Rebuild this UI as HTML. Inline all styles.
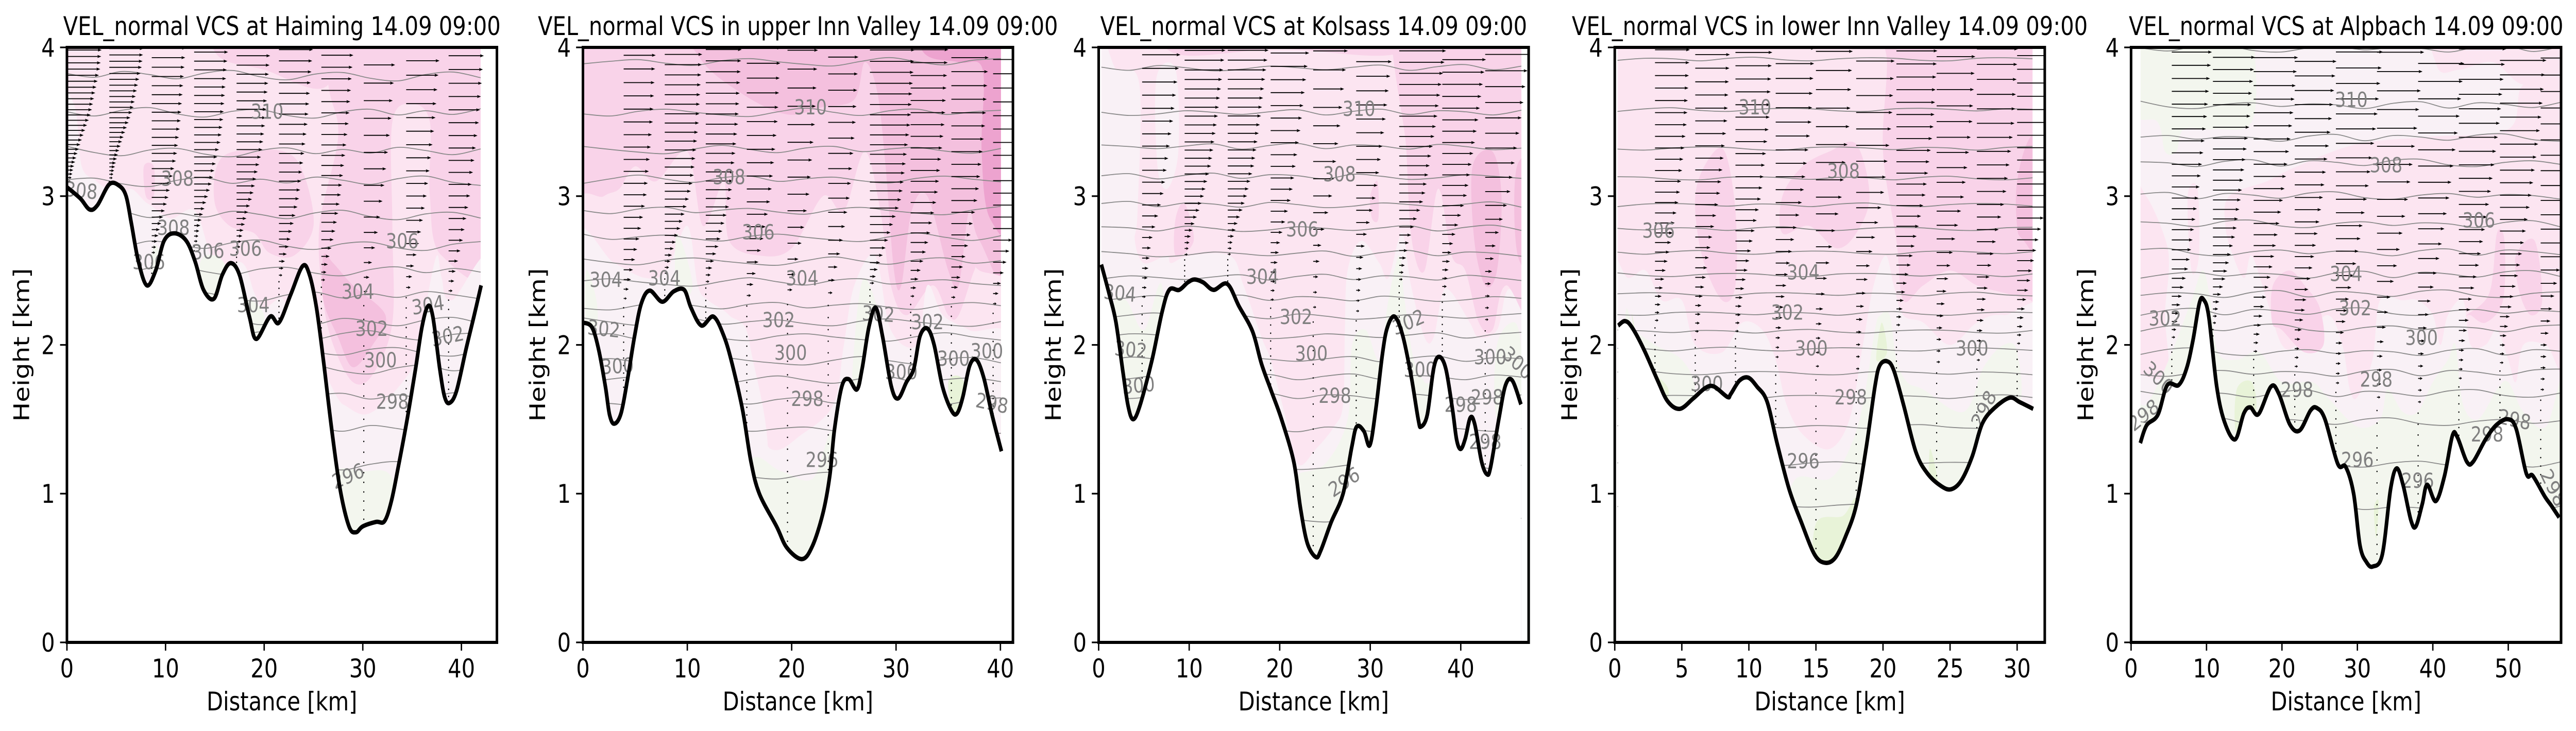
<!DOCTYPE html>
<html lang="en">
<head>
<meta charset="utf-8">
<title>VEL_normal VCS cross sections</title>
<style>
html,body{margin:0;padding:0;background:#fff;width:100%;height:100%;overflow:hidden;}
svg{display:block;width:100vw;height:100vh;font-family:"DejaVu Sans","Liberation Sans",sans-serif;}
</style>
</head>
<body>
<svg id="figure" xmlns="http://www.w3.org/2000/svg" viewBox="0 0 6004 1419" preserveAspectRatio="none"></svg>
<script>
/* ---------- shared data ---------- */
const heightTicks = [0, 1, 2, 3, 4];
const shadeColors = ['#e8f3d8', '#f3f6ee', '#f9f1f6', '#fce5f1', '#f9d3e9', '#f4c0de', '#eda3cf'];
const windLevelFractions = [0.012, 0.028, 0.044, 0.06, 0.077, 0.094, 0.112, 0.13, 0.149, 0.168, 0.188, 0.208, 0.229, 0.25, 0.272, 0.294, 0.317, 0.34, 0.364, 0.388, 0.413, 0.438, 0.464, 0.49, 0.517, 0.544, 0.572, 0.6, 0.629, 0.658, 0.688, 0.718, 0.749, 0.78, 0.812, 0.844, 0.877];
const windHeights = [1.5, 2, 2.3, 2.5, 2.7, 3, 3.5, 4];
const aglHeights = [0, 0.05, 0.2, 0.5, 0.8];
const aglFactors = [0.1, 0.15, 0.35, 0.8, 1];

/* ---------- Haiming ---------- */
const distanceHaiming = [0, 1.35, 2.3, 3.1, 4.3, 5.3, 6, 6.55, 7.25, 8.1, 9, 9.85, 10.9, 12.1, 13, 13.85, 14.9, 15.75, 16.6, 17.5, 18.5, 19.2, 20.6, 21.5, 22.7, 23.9, 24.6, 25.3, 26, 26.85, 27.7, 28.6, 29.3, 30, 31.35, 32.2, 32.9, 33.6, 34.5, 35.35, 36, 36.6, 37.1, 37.8, 38.3, 38.8, 39.5, 40.5, 41.3, 42];
const terrainHaiming = [3.06, 2.985, 2.91, 2.94, 3.08, 3.07, 3, 2.81, 2.56, 2.4, 2.5, 2.7, 2.75, 2.7, 2.56, 2.37, 2.31, 2.47, 2.55, 2.47, 2.19, 2.04, 2.19, 2.15, 2.34, 2.53, 2.47, 2.25, 1.9, 1.43, 1.03, 0.78, 0.74, 0.78, 0.81, 0.815, 0.95, 1.18, 1.5, 1.84, 2.12, 2.26, 2.19, 1.84, 1.65, 1.61, 1.69, 1.98, 2.2, 2.4];
const isentropesHaiming = [3.81, 3.56, 3.3, 3.1, 2.87, 2.67, 2.5, 2.33, 2.15, 2.06, 1.96, 1.84, 1.65, 1.43, 1.18];
const rippleHaiming = [0.4, -0.3, 0.8, 0.2, -0.6, 0.5, 1, -0.2, -0.8, 0.3, 0.6, -0.5, -1, 0.2, 0.7, -0.4];
const arrowColumnsHaiming = [0.07, 4.3, 8.6, 12.9, 17.2, 21.5, 25.8, 30.1, 34.4, 38.7];
const columnGainHaiming = [1, 1, 1, 1, 1, 1, 0.95, 0.95, 1, 1.05];
const windSpeedHaiming = [0.2, 0.3, 1, 2.7, 5.3, 8, 11.3, 13.3];
const shadeHaiming = [
 [4, [25.5,4.4, 44,4.4, 44,2.55, 38,2.6, 36.8,3, 36.8,3.5, 35,3.62, 33,3.5, 33,2.8, 33,2.15, 31,1.8, 29,1.75, 27,2, 26,2.3, 25.6,2.8, 27.5,3.4, 26.5,3.75]],
 [4, [15,4.4, 27,4.4, 26.5,3.75, 20,3.85, 15,3.97]],
 [4, [15.2,3.2, 17,3.3, 22,3.3, 24,3.15, 25,2.8, 23,2.6, 20.5,2.62, 19,2.75, 16.5,2.8, 15,2.95]],
 [4, [7.8,3.2, 8.8,3.2, 8.8,3, 8,3]],
 [5, [26,2.6, 27,2.55, 29,2.4, 32.3,2.2, 31,2, 29,1.85, 27.5,2.05, 26,2.3]],
 [2, [25,1.75, 28,1.6, 31,1.55, 35.5,1.9, 36.5,2.3, 37.5,2.6, 38,2.45, 39,2.3, 44,2.5, 44,0, 25,0]],
 [2, [6,2.2, 6,3, 8.2,2.95, 10.5,2.85, 13,2.9, 15,2.55, 17.8,2.55, 19,2.35, 20,2.25, 22,2.3, 22,1.9, 6,1.9]],
 [2, [-1,3.7, 0.8,3.6, 1.5,3.2, 3,3.1, 4,3, 0,2.8, -1,2.9]],
 [1, [27,1.12, 30,1.15, 33,1.1, 33.5,0.6, 27,0.6]],
 [1, [13.5,2.55, 15,2.6, 16.2,2.5, 16.2,2.2, 13.5,2.2]],
 [1, [8.7,2.65, 9.5,2.6, 9.5,2.3, 8.6,2.3]],
 [1, [18,2.3, 20,2.2, 19,1.95]]
];
const labelsHaiming = [
 ['308', 1.45, 3.04, 5], ['310', 20.3, 3.57, 0], ['308', 11.2, 3.12, 0], ['308', 10.8, 2.79, 0],
 ['306', 8.3, 2.56, 0], ['306', 14.3, 2.63, -3], ['306', 18.1, 2.65, 0], ['304', 18.9, 2.27, 0],
 ['306', 34, 2.7, 0], ['304', 29.5, 2.36, 0], ['302', 30.9, 2.11, 0], ['300', 31.8, 1.9, 0],
 ['298', 33, 1.62, 0], ['296', 28.5, 1.12, -20], ['304', 36.6, 2.27, -8], ['302', 38.6, 2.06, -10]
];

/* ---------- upper Inn Valley ---------- */
const distanceUpperInn = [0, 0.85, 1.5, 2.15, 2.55, 3, 3.65, 4.3, 4.95, 5.6, 6.4, 7.6, 8.7, 9.7, 10.35, 11.35, 12.5, 13.5, 14.3, 15.3, 16.1, 16.9, 18.55, 19.55, 21, 22, 23, 23.65, 24.1, 24.8, 25.45, 26.25, 26.75, 27.4, 28.05, 28.7, 29.55, 30.2, 31, 31.7, 32.3, 33, 33.65, 34.45, 35.3, 35.85, 36.4, 37.05, 37.7, 38.4, 39.2, 40.1];
const terrainUpperInn = [2.15, 2.12, 1.97, 1.72, 1.53, 1.47, 1.54, 1.78, 2.06, 2.28, 2.365, 2.29, 2.36, 2.37, 2.25, 2.13, 2.19, 2.06, 1.87, 1.56, 1.215, 1, 0.78, 0.635, 0.56, 0.65, 0.87, 1.12, 1.43, 1.72, 1.77, 1.7, 1.84, 2.12, 2.25, 2.06, 1.72, 1.64, 1.75, 1.84, 2.06, 2.11, 2, 1.72, 1.56, 1.54, 1.65, 1.86, 1.9, 1.78, 1.53, 1.285];
const isentropesUpperInn = [3.9, 3.56, 3.31, 3.11, 2.9, 2.72, 2.56, 2.42, 2.26, 2.15, 2.05, 1.89, 1.76, 1.62, 1.43, 1.12];
const rippleUpperInn = [-0.3, 0.2, 0.5, -0.2, -0.6, 0.3, 0.7, 0.1, -0.4, -0.7, 0.2, 0.9, 0.1, -0.5, 0.4, 0.7];
const arrowColumnsUpperInn = [3.9, 7.84, 11.77, 15.7, 19.6, 23.5, 27.5, 31.4, 35.3, 39.3];
const columnGainUpperInn = [0.9, 1.05, 1, 0.95, 0.85, 0.85, 1.25, 1.05, 1.05, 1.1];
const windSpeedUpperInn = [0.3, 0.5, 1.3, 4, 6.7, 10, 12.7, 14];
const shadeUpperInn = [
 [5, [9,4.4, 42,4.4, 42,2.35, 38,2.7, 37,2.9, 36,2.4, 35,2.5, 33,3, 31.5,2.9, 30.5,2.4, 29.8,2.5, 29,3.2, 28.2,3.7, 27,3.9, 26,3.65, 23,3.6, 19.5,3.55, 15,3.7, 11,3.95]],
 [6, [32,4.4, 42,4.4, 42,2.8, 39,2.85, 38.2,3.3, 38.3,3.85, 36,3.9, 32.5,3.98]],
 [3, [-1,2.85, 2,3, 3.5,3.05, 5,3.2, 7,3.1, 10,3.3, 11.5,2.8, 13.5,3.1, 14,2.7, 17,2.6, 20,2.65, 23,3, 25,2.9, 27,3.3, 28.5,2.9, 29.5,2.4, 31,2.2, 33.5,2.4, 35,2.2, 36,2.2, 37.5,2.5, 38,2.5, 42,2.3, 42,1.3, -1,1.3]],
 [2, [-1,2.7, 3,2.55, 6,2.45, 8,2.5, 10,2.8, 11,2.4, 12,2.3, 14,2.2, 16,2, 16.5,1, -1,1]],
 [2, [15,1.6, 18,1.3, 21,1.4, 24,1.6, 25,2, 26,2.4, 28,2.6, 29.5,2.1, 32,2, 33,2.4, 34.5,2.2, 37,2.1, 42,1.9, 42,0, 15,0]],
 [1, [16,1.2, 19,1.15, 22,1.1, 24,1.4, 24.5,0.4, 16,0.4]],
 [1, [26,2, 27,2.45, 29,2, 29,1.5, 26,1.5]],
 [1, [0.3,2.5, 1.3,2.3, 1.3,2.1, 0.3,2.1]],
 [1, [9,2.75, 10.5,2.4, 9,2.3]],
 [0, [35,1.75, 36.5,1.75, 35.8,1.4]]
];
const labelsUpperInn = [
 ['304', 2.2, 2.44, 0], ['304', 7.8, 2.45, 0], ['302', 2, 2.11, 5], ['300', 3.3, 1.86, -3],
 ['310', 21.8, 3.6, 0], ['308', 14, 3.13, 0], ['306', 16.8, 2.76, 0], ['304', 21, 2.45, 0],
 ['302', 18.75, 2.17, 0], ['300', 19.9, 1.95, 0], ['298', 21.5, 1.64, 0], ['296', 22.9, 1.23, 0],
 ['302', 28.3, 2.21, 3], ['302', 33, 2.155, 0], ['300', 35.5, 1.91, 0], ['300', 38.7, 1.96, 0],
 ['300', 30.5, 1.82, 0], ['298', 39.2, 1.61, 10]
];

/* ---------- Kolsass ---------- */
const distanceKolsass = [0.3, 1.17, 1.9, 2.7, 3.25, 3.8, 4.55, 5.9, 7, 7.8, 8.9, 9.85, 10.6, 11.55, 12.7, 14.2, 15.5, 17, 18, 19.1, 20.2, 21.55, 22.3, 23.05, 24, 24.55, 25.7, 27, 27.95, 28.5, 29.3, 29.95, 30.6, 31.35, 31.9, 32.7, 33.6, 34.55, 35.3, 35.6, 36.3, 37, 37.6, 38.35, 39.1, 39.55, 40, 40.5, 41.05, 41.55, 42.3, 42.9, 43.3, 44.2, 44.95, 45.7, 46.65];
const terrainKolsass = [2.54, 2.34, 2.155, 1.81, 1.59, 1.5, 1.59, 1.9, 2.22, 2.37, 2.37, 2.42, 2.44, 2.42, 2.37, 2.41, 2.26, 2.09, 1.87, 1.685, 1.5, 1.215, 0.9, 0.667, 0.573, 0.62, 0.81, 1, 1.31, 1.45, 1.42, 1.325, 1.56, 1.94, 2.12, 2.19, 2.06, 1.78, 1.5, 1.45, 1.53, 1.84, 1.92, 1.84, 1.56, 1.36, 1.3, 1.37, 1.51, 1.465, 1.215, 1.13, 1.18, 1.5, 1.73, 1.76, 1.6];
const isentropesKolsass = [3.86, 3.56, 3.33, 3.13, 2.94, 2.78, 2.61, 2.45, 2.31, 2.19, 2.06, 1.9, 1.78, 1.65, 1.43, 1.18, 0.82];
const rippleKolsass = [0.2, -0.4, 0.5, 0.1, -0.5, -0.2, 0.4, 0.1, -0.3, 0.2, 0.6, -0.4, 0.3, 0.7, -0.3, 0.4];
const arrowColumnsKolsass = [4.8, 9.5, 14.26, 19, 23.7, 28.45, 33.2, 37.96, 42.7];
const columnGainKolsass = [0.95, 1, 1, 0.95, 0.85, 0.9, 1.15, 1.1, 1.1];
const windSpeedKolsass = [0.3, 0.7, 1.5, 2.5, 4, 8.7, 12.7, 16];
const shadeKolsass = [
 [2, [-1,3.88, 2,3.85, 4.5,3.75, 4.3,2.9, 4,2.7, 5,2.55, 7.5,2.6, 8,2.55, 10,2.6, 14.5,2.6, 16,2.4, 18,2.05, 19,1.9, 20.5,1.55, 22,1.2, 24,1.3, 26,1.45, 27,1.6, 27.2,2.1, 27.5,2.5, 29,2.7, 31,2.55, 32,2.45, 33.5,2.75, 34.5,2.4, 36,2.05, 37,2.05, 38,2.35, 39,2.35, 41,2.15, 42,2.05, 44,2.1, 45,2.35, 46,2.35, 49,2.2, 49,0, -1,0]],
 [2, [6.4,3.8, 8.5,3.85, 8.8,3.3, 7.6,3.05, 6.5,3.2]],
 [4, [33.3,4.4, 49,4.4, 49,2.2, 45,2.4, 43.5,2.1, 42,2.15, 40.5,2.5, 39,2.6, 37.5,3.05, 36,2.5, 34.6,2.7, 34,3.3]],
 [4, [8,4.4, 33.5,4.4, 33.5,3.97, 20,3.99, 8,3.97]],
 [4, [8.5,2.85, 9.5,2.95, 10.5,2.7, 8.5,2.6]],
 [4, [30,3, 30.8,3.1, 30.9,2.85, 30.2,2.85]],
 [5, [41.3,3.2, 43.5,3.3, 44.5,3, 44,2.5, 42.7,2.4, 41.5,2.7]],
 [5, [46.2,3.2, 49,3.2, 49,2.5, 46.3,2.6]],
 [1, [1.5,2.2, 3,2.3, 5,2.1, 7,2.4, 7.5,1.5, 2,1.2]],
 [1, [21.5,1.1, 25,1.2, 27.5,1.5, 28,2, 29.5,2.1, 31,1.9, 32,2.3, 33.2,2.6, 33.8,2.3, 34.8,1.9, 36,1.75, 37,1.7, 37,1.2, 32,0.9, 24,0.4, 21.5,0.8]],
 [1, [44,2, 46,2.15, 46.8,1.9, 46.8,1.5, 44,1.5]]
];
const labelsKolsass = [
 ['304', 2.35, 2.35, 5], ['302', 3.55, 1.97, 5], ['300', 4.4, 1.73, -5], ['310', 28.75, 3.59, 0],
 ['308', 26.6, 3.15, 0], ['306', 22.5, 2.78, 0], ['304', 18.1, 2.46, 0], ['302', 21.8, 2.19, 0],
 ['300', 23.5, 1.945, 0], ['298', 26.1, 1.66, 0], ['296', 27.1, 1.08, -30], ['302', 34.2, 2.155, -20],
 ['300', 35.5, 1.835, 0], ['300', 43.25, 1.92, 0], ['300', 46.3, 1.88, 40], ['298', 40, 1.6, 0],
 ['298', 42.9, 1.65, 0], ['298', 42.7, 1.35, 0]
];

/* ---------- lower Inn Valley ---------- */
const distanceLowerInn = [0.25, 0.76, 1.27, 2.17, 3.2, 3.95, 4.85, 5.85, 6.75, 7.4, 8.4, 8.65, 9.3, 9.95, 10.6, 11.35, 12.1, 13, 13.9, 14.9, 15.7, 16.45, 17.2, 18, 18.75, 19.4, 19.75, 20.3, 20.8, 21.55, 22.45, 23.3, 24.35, 25.1, 25.85, 26.65, 27.4, 28.3, 29.45, 30.2, 31.2];
const terrainLowerInn = [2.13, 2.16, 2.12, 1.97, 1.76, 1.62, 1.57, 1.64, 1.71, 1.72, 1.65, 1.67, 1.76, 1.78, 1.72, 1.62, 1.34, 1.03, 0.81, 0.59, 0.535, 0.57, 0.71, 0.92, 1.31, 1.72, 1.86, 1.89, 1.83, 1.59, 1.28, 1.137, 1.05, 1.03, 1.09, 1.25, 1.47, 1.575, 1.645, 1.615, 1.57];
const isentropesLowerInn = [3.92, 3.58, 3.32, 3.12, 2.94, 2.78, 2.62, 2.47, 2.34, 2.21, 2.09, 1.97, 1.81, 1.65, 1.45, 1.2, 0.92];
const rippleLowerInn = [-0.2, 0.2, 0.1, -0.3, 0.2, 0.4, -0.1, -0.3, 0.1, 0.3, 0.2, -0.2, -0.3, 0.2, 0.3, 0.1];
const arrowColumnsLowerInn = [3, 6, 9, 12, 15, 18, 21, 24, 27, 30];
const columnGainLowerInn = [0.85, 0.85, 0.9, 0.95, 0.9, 0.95, 1, 0.95, 1, 1.1];
const windSpeedLowerInn = [0.5, 1.7, 3.5, 5.3, 7.5, 11.3, 14.7, 16];
const shadeLowerInn = [
 [2, [-1,2.5, 1,2.45, 2.3,2.5, 3.5,2.3, 5,2.3, 6,2, 8,1.95, 9.5,2.15, 11,2.1, 12,1.9, 12.8,1.6, 14,1.4, 16,1.3, 17.5,1.5, 18.5,2, 19.3,2.4, 20.2,2.6, 20.8,2.4, 21.5,2.2, 23,2.15, 25,2, 27,2.15, 29,2.2, 33,2.1, 33,0, -1,0]],
 [1, [0.8,2.2, 1.5,2.1, 3,2, 5,1.9, 6,1.7, 6,1.3, 1,1.3]],
 [1, [13.5,1.1, 16,1.1, 17.5,1.3, 18.5,1.6, 19.4,2.1, 19.8,2.2, 20.5,2.2, 21,1.9, 21.8,1.75, 23,1.7, 26,1.55, 27.5,1.85, 29,2, 30,1.95, 30,1.5, 26,0.8, 16,0.3, 13,0.8]],
 [0, [1.3,2.2, 2,1.9, 4,1.7, 3,1.5]],
 [0, [15,0.8, 17,0.85, 18,0.95, 17.5,0.4, 15,0.4]],
 [0, [23.5,1.3, 24.2,1, 23.5,0.9]],
 [0, [19.5,1.9, 19.9,2.15, 20.3,1.95]],
 [4, [6,3, 7,3.25, 8.2,3.3, 9,2.9, 9,2.4, 8,2.3, 6.5,2.6]],
 [4, [12.5,3, 14,3.2, 16,3.3, 18,3.35, 19,3, 18,2.75, 16.5,2.65, 14.5,2.8, 12.5,2.75]],
 [4, [20,4.4, 33,4.4, 33,2.2, 31,2.3, 29,2.35, 27,2.4, 25,2.5, 23,2.4, 21.5,2.3, 21,2.7, 20,3.3, 20.3,3.9]],
 [5, [30,3.1, 31,3.4, 33,3.5, 33,2.5, 30.5,2.7, 30,2.8]]
];
const labelsLowerInn = [
 ['306', 3.26, 2.77, 0], ['310', 10.45, 3.6, 0], ['308', 17.05, 3.17, 0], ['304', 14.05, 2.49, 0],
 ['302', 12.87, 2.22, 0], ['300', 14.66, 1.98, 0], ['300', 6.86, 1.74, 0], ['300', 26.64, 1.98, 0],
 ['298', 17.6, 1.65, 0], ['296', 14.05, 1.22, 0], ['298', 27.5, 1.57, -60]
];

/* ---------- Alpbach ---------- */
const distanceAlpbach = [1.22, 2.07, 3.55, 4.8, 6.3, 7.35, 8.2, 9.05, 9.6, 10.3, 11.35, 12.4, 13.8, 14.95, 15.8, 16.9, 18.55, 19.6, 21.05, 22.35, 23.8, 24.65, 25.7, 27.4, 28.45, 29.5, 30.35, 31.2, 32.05, 33.3, 34.4, 35.2, 36.05, 37.1, 37.75, 38.6, 39.25, 40.4, 41.55, 42.6, 43.25, 44.5, 45.35, 47.05, 48.5, 50, 51.05, 52.4, 53.25, 54.85, 55.7, 56.75];
const terrainAlpbach = [1.34, 1.46, 1.53, 1.73, 1.73, 1.84, 2.03, 2.28, 2.305, 2.19, 1.72, 1.48, 1.365, 1.54, 1.58, 1.535, 1.72, 1.67, 1.465, 1.425, 1.56, 1.575, 1.5, 1.2, 1.18, 1, 0.65, 0.54, 0.51, 0.59, 1.03, 1.17, 1.06, 0.82, 0.78, 0.93, 1.06, 0.95, 1.12, 1.39, 1.38, 1.215, 1.215, 1.37, 1.465, 1.5, 1.435, 1.135, 1.12, 0.98, 0.92, 0.84];
const isentropesAlpbach = [3.99, 3.61, 3.39, 3.22, 3, 2.81, 2.62, 2.47, 2.34, 2.22, 2.11, 1.95, 1.81, 1.67, 1.48, 1.2, 0.9];
const rippleAlpbach = [0.2, -0.4, 0.6, 0.8, -0.3, -0.6, 0.2, 0.5, -0.2, 0.3, 0.1, -0.6, 0.4, 0.7, -0.5, 0.5];
const arrowColumnsAlpbach = [5.4, 10.85, 16.25, 21.7, 27.15, 32.6, 38.05, 43.45, 48.9, 54.3];
const columnGainAlpbach = [0.85, 0.9, 0.95, 0.9, 1, 1, 1, 1, 1, 1];
const windSpeedAlpbach = [0.8, 2.5, 5, 7.5, 9.5, 12.3, 16, 18.5];
const shadeAlpbach = [
 [1, [0,4.4, 15,4.4, 16.4,3.97, 16,3.5, 11,3.45, 7,3.45, 6,3.3, 4.5,3.3, 3.5,3.5, 0,3.6]],
 [3, [-1,3.1, 2,3, 4.6,2.7, 5,2.5, 4.5,2.2, 4.8,1.8, 1,1.8, -1,1.8]],
 [3, [13,3, 18,3.1, 22,3.2, 30,3.35, 40,3.4, 50,3.45, 52,3.75, 58,3.8, 58,1.9, 55,2, 52,2, 51,1.75, 50,1.9, 48.5,2.1, 47,2, 45,2, 44,2.3, 42,2.2, 41,2, 40,2.2, 38,2.3, 36,2.3, 33,2.3, 32,1.9, 30,1.65, 29,1.7, 28,2, 26,2.2, 22,2, 20,2, 18,2.3, 16,2.6, 15,2.45, 13.5,2.6, 12.5,2.8]],
 [3, [7.5,3, 8.8,3.05, 9,2.6, 8,2.5]],
 [3, [40,4.4, 58,4.4, 58,3.8, 52,3.75, 48,3.9, 43.5,3.85, 40.5,3.88]],
 [4, [18.8,2.4, 21,2.5, 23,2.4, 25,2.25, 25.5,2, 23,1.95, 20,2.1, 18.7,2.15]],
 [4, [48.5,2.75, 49.5,2.7, 49.3,2.3, 47,2.15, 45,2.2, 44.5,2.2, 47.5,2.35]],
 [4, [51,2.6, 53.5,2.7, 54.5,2.3, 53,2.2, 51.5,2.35]],
 [1, [-1,1.55, 2,1.6, 5,1.9, 8,2.3, 9.5,2.5, 10.5,2.3, 11.5,1.95, 14,1.9, 17,1.95, 20,1.75, 24,1.75, 26,1.65, 30,1.45, 33,1.5, 34,1.7, 36,1.55, 38,1.55, 40,1.75, 42,1.9, 43,2, 44,1.6, 46,1.5, 48.5,1.7, 50,1.75, 52,1.55, 55,1.45, 58,1.8, 58,0, -1,0]],
 [0, [14,1.7, 16,1.75, 16.5,1.55, 14,1.4]],
 [0, [32.2,0.9, 32.8,0.95, 32.5,0.7]]
];
const labelsAlpbach = [
 ['302', 4.5, 2.18, 0], ['300', 3.67, 1.78, 40], ['298', 1.65, 1.53, -35], ['310', 29.2, 3.65, 0],
 ['308', 33.8, 3.21, 0], ['306', 46.1, 2.84, 0], ['304', 28.5, 2.48, 0], ['302', 29.7, 2.25, 0],
 ['300', 38.5, 2.05, 0], ['298', 32.5, 1.77, 0], ['298', 22, 1.7, 0], ['296', 30, 1.23, 0],
 ['296', 38, 1.09, 0], ['298', 47.2, 1.4, 0], ['298', 50.85, 1.5, 10], ['298', 56, 1.04, 60]
];

/* ---------- panels ---------- */
const panels = [
 {key:'haiming', title:'VEL_normal VCS at Haiming 14.09 09:00', left:156, xMax:43.6, baseShade:3, fieldStart:0, fieldEnd:41.95, xTicks:[0,10,20,30,40], dist:distanceHaiming, terr:terrainHaiming, iso:isentropesHaiming, rip:rippleHaiming, cols:arrowColumnsHaiming, gain:columnGainHaiming, wind:windSpeedHaiming, shade:shadeHaiming, labels:labelsHaiming},
 {key:'upper-inn', title:'VEL_normal VCS in upper Inn Valley 14.09 09:00', left:1358.7, xMax:41.2, baseShade:4, fieldStart:0, fieldEnd:40.05, xTicks:[0,10,20,30,40], dist:distanceUpperInn, terr:terrainUpperInn, iso:isentropesUpperInn, rip:rippleUpperInn, cols:arrowColumnsUpperInn, gain:columnGainUpperInn, wind:windSpeedUpperInn, shade:shadeUpperInn, labels:labelsUpperInn},
 {key:'kolsass', title:'VEL_normal VCS at Kolsass 14.09 09:00', left:2560.7, xMax:47.5, baseShade:3, fieldStart:0.3, fieldEnd:46.7, xTicks:[0,10,20,30,40], dist:distanceKolsass, terr:terrainKolsass, iso:isentropesKolsass, rip:rippleKolsass, cols:arrowColumnsKolsass, gain:columnGainKolsass, wind:windSpeedKolsass, shade:shadeKolsass, labels:labelsKolsass},
 {key:'lower-inn', title:'VEL_normal VCS in lower Inn Valley 14.09 09:00', left:3763.6, xMax:32.06, baseShade:3, fieldStart:0.2, fieldEnd:31.15, xTicks:[0,5,10,15,20,25,30], dist:distanceLowerInn, terr:terrainLowerInn, iso:isentropesLowerInn, rip:rippleLowerInn, cols:arrowColumnsLowerInn, gain:columnGainLowerInn, wind:windSpeedLowerInn, shade:shadeLowerInn, labels:labelsLowerInn},
 {key:'alpbach', title:'VEL_normal VCS at Alpbach 14.09 09:00', left:4967, xMax:57, baseShade:2, fieldStart:1.25, fieldEnd:57, xTicks:[0,10,20,30,40,50], dist:distanceAlpbach, terr:terrainAlpbach, iso:isentropesAlpbach, rip:rippleAlpbach, cols:arrowColumnsAlpbach, gain:columnGainAlpbach, wind:windSpeedAlpbach, shade:shadeAlpbach, labels:labelsAlpbach}
];

/* ---------- drawing ---------- */
const NS = 'http://www.w3.org/2000/svg';
const fig = document.getElementById('figure');
const AX_W = 1002.2, AX_TOP = 92, AX_BOTTOM = 1247;
const PX_PER_SPEED = 6;

function make(tag, parent, attrs) {
  const el = document.createElementNS(NS, tag);
  for (const k in attrs) el.setAttribute(k, attrs[k]);
  parent.appendChild(el);
  return el;
}
function interp(xs, ys, x) {
  if (x <= xs[0]) return ys[0];
  for (let i = 1; i < xs.length; i++) {
    if (x <= xs[i]) return ys[i-1] + (ys[i]-ys[i-1]) * (x-xs[i-1]) / (xs[i]-xs[i-1]);
  }
  return ys[ys.length-1];
}
function openSpline(pts) {
  let d = 'M' + pts[0][0].toFixed(1) + ' ' + pts[0][1].toFixed(1);
  for (let i = 0; i < pts.length-1; i++) {
    const p0 = pts[Math.max(i-1,0)], p1 = pts[i], p2 = pts[i+1], p3 = pts[Math.min(i+2,pts.length-1)];
    const c1x = p1[0]+(p2[0]-p0[0])/6, c1y = p1[1]+(p2[1]-p0[1])/6;
    const c2x = p2[0]-(p3[0]-p1[0])/6, c2y = p2[1]-(p3[1]-p1[1])/6;
    d += 'C'+c1x.toFixed(1)+' '+c1y.toFixed(1)+' '+c2x.toFixed(1)+' '+c2y.toFixed(1)+' '+p2[0].toFixed(1)+' '+p2[1].toFixed(1);
  }
  return d;
}
function closedSpline(pts) {
  const n = pts.length;
  let d = 'M' + pts[0][0].toFixed(1) + ' ' + pts[0][1].toFixed(1);
  for (let i = 0; i < n; i++) {
    const p0 = pts[(i-1+n)%n], p1 = pts[i], p2 = pts[(i+1)%n], p3 = pts[(i+2)%n];
    const c1x = p1[0]+(p2[0]-p0[0])/6, c1y = p1[1]+(p2[1]-p0[1])/6;
    const c2x = p2[0]-(p3[0]-p1[0])/6, c2y = p2[1]-(p3[1]-p1[1])/6;
    d += 'C'+c1x.toFixed(1)+' '+c1y.toFixed(1)+' '+c2x.toFixed(1)+' '+c2y.toFixed(1)+' '+p2[0].toFixed(1)+' '+p2[1].toFixed(1);
  }
  return d + 'Z';
}

const defs = make('defs', fig, {});
panels.forEach(function (p) {
  const xs = function (km) { return p.left + km / p.xMax * AX_W; };
  const ys = function (z) { return AX_BOTTOM - z * (AX_BOTTOM - AX_TOP) / 4; };
  const right = p.left + AX_W;

  const axClip = make('clipPath', defs, {id:'ax-'+p.key});
  make('rect', axClip, {x:p.left, y:AX_TOP, width:AX_W, height:AX_BOTTOM-AX_TOP});
  const fieldClip = make('clipPath', defs, {id:'field-'+p.key});
  make('rect', fieldClip, {x:xs(p.fieldStart), y:AX_TOP, width:xs(p.fieldEnd)-xs(p.fieldStart), height:AX_BOTTOM-AX_TOP});

  const panel = make('g', fig, {});
  
  

  /* shaded wind field */
  const field = make('g', panel, {'clip-path':'url(#field-'+p.key+')'});
  
  
  const baseRect = make('rect', field, {x:xs(p.fieldStart), y:AX_TOP, width:xs(p.fieldEnd)-xs(p.fieldStart), height:AX_BOTTOM-AX_TOP, fill:shadeColors[p.baseShade]});
  
  
  p.shade.forEach(function (s) {
    const pts = [];
    for (let i = 0; i < s[1].length; i += 2) pts.push([xs(s[1][i]), ys(s[1][i+1])]);
    const blob = make('path', field, {d:closedSpline(pts), fill:shadeColors[s[0]]});
    
    
  });

  /* isentropes */
  const contourGroup = make('g', panel, {'clip-path':'url(#field-'+p.key+')', fill:'none', stroke:'#8a8a8a', 'stroke-width':'1.8'});
  
  
  p.iso.forEach(function (base, lv) {
    const pts = [];
    const n = p.rip.length;
    for (let i = 0; i < n; i++) {
      const km = p.fieldStart + (p.fieldEnd - p.fieldStart) * i / (n - 1);
      pts.push([xs(km), ys(base + p.rip[(i + lv * 3) % n] * 0.035)]);
    }
    const line = make('path', contourGroup, {d:openSpline(pts)});
    
    
  });

  /* white terrain mask */
  const terrPts = p.dist.map(function (d, i) { return [xs(d), ys(p.terr[i])]; });
  const terrPath = openSpline(terrPts);
  const mask = make('path', panel, {d: terrPath + 'L' + terrPts[terrPts.length-1][0].toFixed(1) + ' ' + (AX_BOTTOM+1) + 'L' + terrPts[0][0].toFixed(1) + ' ' + (AX_BOTTOM+1) + 'Z', fill:'#ffffff', 'clip-path':'url(#ax-'+p.key+')'});
  
  

  /* wind arrows (arrows reaching the frame lose their heads, as when clipped) */
  const arrowGroup = make('g', panel, {'clip-path':'url(#ax-'+p.key+')', fill:'#000000'});
  
  
  p.cols.forEach(function (cx, ci) {
    const ground = interp(p.dist, p.terr, cx);
    windLevelFractions.forEach(function (s) {
      const z = ground + (4.6 - ground) * s;
      if (z > 4.005) return;
      const speed = interp(windHeights, p.wind, z) * p.gain[ci] * interp(aglHeights, aglFactors, z - ground);
      const L = speed * PX_PER_SPEED;
      const x = xs(cx), y = ys(z);
      if (L < 7) {
        const dot = make('circle', arrowGroup, {cx:x, cy:y, r:1.4});
        
        
      } else if (x + L > right) {
        const d = 'M'+x.toFixed(1)+' '+(y-0.9).toFixed(1)+'H'+right.toFixed(1)+'V'+(y+0.9).toFixed(1)+'H'+x.toFixed(1)+'Z';
        const stub = make('path', arrowGroup, {d:d});
        
        
      } else {
        const hl = Math.min(9, L * 0.6);
        const d = 'M'+x.toFixed(1)+' '+(y-0.9).toFixed(1)+'H'+(x+L-hl+1).toFixed(1)+'L'+(x+L-hl).toFixed(1)+' '+(y-3).toFixed(1)+'L'+(x+L).toFixed(1)+' '+y.toFixed(1)+'L'+(x+L-hl).toFixed(1)+' '+(y+3).toFixed(1)+'L'+(x+L-hl+1).toFixed(1)+' '+(y+0.9).toFixed(1)+'H'+x.toFixed(1)+'Z';
        const arrow = make('path', arrowGroup, {d:d});
        
        
      }
    });
  });

  /* contour labels */
  const labelGroup = make('g', panel, {'clip-path':'url(#ax-'+p.key+')', fill:'#808080', 'font-size':'40', 'text-anchor':'middle'});
  
  
  p.labels.forEach(function (l) {
    const lx = xs(l[1]), ly = ys(l[2]);
    const t = make('text', labelGroup, {x:lx, y:ly, dy:'14.5', transform:'rotate(' + l[3] + ' ' + lx.toFixed(1) + ' ' + ly.toFixed(1) + ')'});
    t.textContent = l[0];
    
    
  });

  /* terrain line */
  const terrLine = make('path', panel, {d:terrPath, fill:'none', stroke:'#000000', 'stroke-width':'8.5', 'stroke-linejoin':'round', 'clip-path':'url(#ax-'+p.key+')'});
  
  

  /* frame */
  const frame = make('rect', panel, {x:p.left, y:AX_TOP, width:AX_W, height:AX_BOTTOM-AX_TOP, fill:'none', stroke:'#000000', 'stroke-width':'6'});
  
  

  /* ticks */
  p.xTicks.forEach(function (v) {
    const tick = make('line', panel, {x1:xs(v), x2:xs(v), y1:AX_BOTTOM, y2:AX_BOTTOM+16, stroke:'#000000', 'stroke-width':'3.2'});
    
    
    const lab = make('text', panel, {x:xs(v), y:1315, 'font-size':'50', 'text-anchor':'middle', fill:'#000000'});
    lab.textContent = String(v);
    
    
  });
  heightTicks.forEach(function (v) {
    const tick = make('line', panel, {x1:p.left-16, x2:p.left, y1:ys(v), y2:ys(v), stroke:'#000000', 'stroke-width':'3.2'});
    
    
    const lab = make('text', panel, {x:p.left-28, y:ys(v)+18, 'font-size':'50', 'text-anchor':'end', fill:'#000000'});
    lab.textContent = String(v);
    
    
  });

  /* titles */
  const title = make('text', panel, {x:p.left+AX_W/2, y:68, 'font-size':'50', 'text-anchor':'middle', fill:'#000000'});
  title.textContent = p.title;
  
  
  const xTitle = make('text', panel, {x:p.left+AX_W/2, y:1379, 'font-size':'50', 'text-anchor':'middle', fill:'#000000'});
  xTitle.textContent = 'Distance [km]';
  
  
  const yx = p.left - 88, yy = (AX_TOP + AX_BOTTOM) / 2;
  const yTitle = make('text', panel, {x:yx, y:yy, 'font-size':'50', 'text-anchor':'middle', fill:'#000000', transform:'rotate(-90 ' + yx + ' ' + yy + ')'});
  yTitle.textContent = 'Height [km]';
  
  
});
</script>
</body>
</html>
